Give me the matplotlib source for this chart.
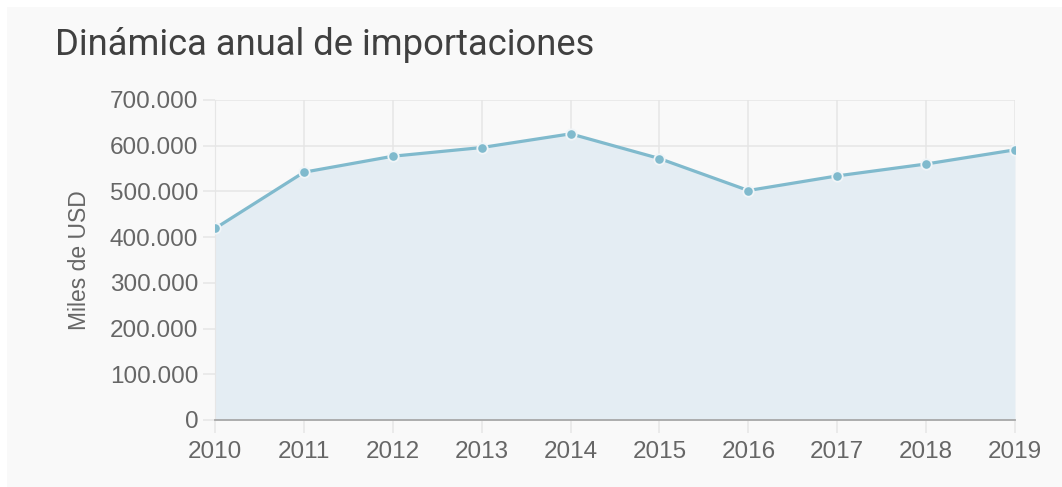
import matplotlib.pyplot as plt
from matplotlib.ticker import FuncFormatter
from matplotlib.patches import Rectangle

# data (miles de USD)
years = [2010, 2011, 2012, 2013, 2014, 2015, 2016, 2017, 2018, 2019]
imports = [419000, 542000, 577000, 596000, 626000, 572000, 502000, 534000, 560000, 591000]
y_ticks = [0, 100000, 200000, 300000, 400000, 500000, 600000, 700000]

title = "Dinámica anual de importaciones"
y_label = "Miles de USD"

line_color = "#80bacd"
fill_color = "#e4edf3"
grid_color = "#e6e6e6"
text_color = "#666666"

fig = plt.figure(figsize=(10.62, 4.87), dpi=100)
fig.patch.set_facecolor("#ffffff")
# light panel behind the chart
fig.patches.append(Rectangle((7 / 1062, 0), 1, 1 - 7 / 487, transform=fig.transFigure,
                             facecolor="#f9f9f9", edgecolor="none", zorder=-10))

ax = fig.add_axes([215 / 1062, 1 - 420 / 487, 800 / 1062, 320 / 487])
ax.set_facecolor("none")

ax.fill_between(years, imports, 0, color=fill_color, zorder=1, linewidth=0)
ax.plot(years, imports, color=line_color, linewidth=2.3, zorder=3,
        marker="o", markersize=7.5, markerfacecolor=line_color,
        markeredgecolor="#f0f5f8", markeredgewidth=1.3)

ax.set_xlim(years[0], years[-1])
ax.set_ylim(0, 700000)
ax.set_xticks(years)
ax.set_yticks(y_ticks)
ax.yaxis.set_major_formatter(FuncFormatter(lambda v, p: f"{int(v):,}".replace(",", ".")))

ax.grid(True, color=grid_color, linewidth=1.1, zorder=0)
ax.set_axisbelow(True)

for s in ["top", "right"]:
    ax.spines[s].set_visible(False)
ax.spines["left"].set_color(grid_color)
ax.spines["bottom"].set_color("#a8a8a8")
ax.spines["bottom"].set_linewidth(1.3)
ax.spines["bottom"].set_zorder(4)

ax.tick_params(axis="both", colors=grid_color, length=9, width=1.1,
               labelcolor=text_color, labelsize=17.5)
ax.tick_params(axis="x", pad=6)
ax.tick_params(axis="y", pad=3)
for lab in ax.get_xticklabels() + ax.get_yticklabels():
    lab.set_family(["Liberation Sans", "DejaVu Sans"])
# darker ticks at the origin
ax.xaxis.get_major_ticks()[0].tick1line.set_color("#a8a8a8")
ax.yaxis.get_major_ticks()[0].tick1line.set_color("#a8a8a8")

ax.set_ylabel(y_label, fontsize=16.5, color=text_color, labelpad=14,
              family=["Liberation Sans", "DejaVu Sans"])

fig.text(55 / 1062, 1 - 45 / 487, title, fontsize=26.2, color="#404040",
         family=["Roboto", "DejaVu Sans"], va="center", ha="left")

fig.savefig("out.png", dpi=100, facecolor=fig.get_facecolor())
